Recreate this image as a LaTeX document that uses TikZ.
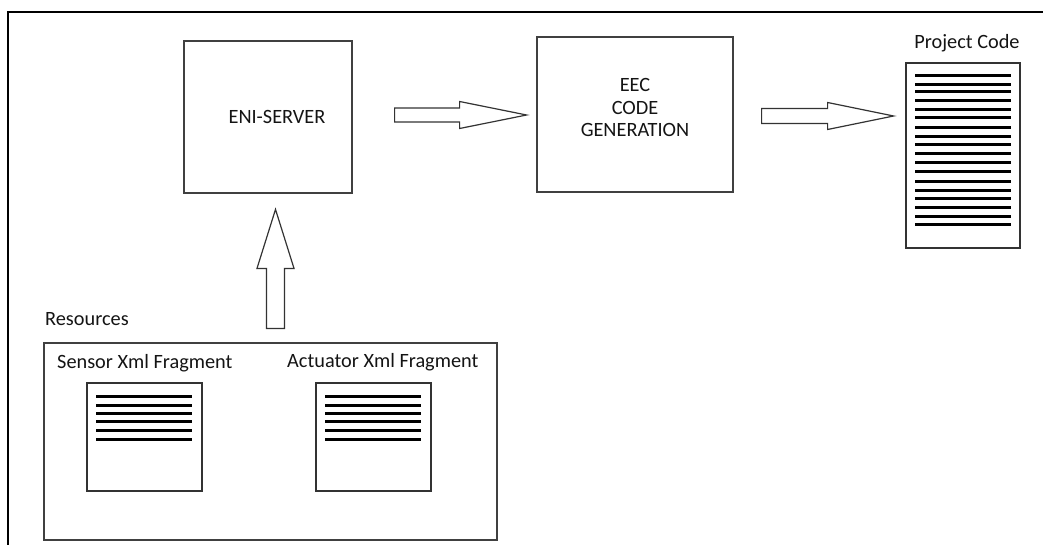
\documentclass[tikz,border=0pt]{standalone}
\usepackage{fontspec}
\setmainfont{Carlito}
\begin{document}
\begin{tikzpicture}[x=1pt,y=-1pt,
  box/.style={draw=black!75,line width=1.2pt,rectangle,inner sep=0pt},
  doc/.style={draw=black!80,line width=1.2pt,rectangle,inner sep=0pt,fill=white},
  docline/.style={line width=2.8pt,black},
  lbl/.style={font=\fontsize{20.3}{22.5}\selectfont,text=black!92,inner sep=0pt,align=center},
  arrowline/.style={draw=black!80,line width=1.2pt,fill=white,line join=miter},
  pics/blockarrow/.style n args={4}{code={
    % total length, head length, shaft half width, head half width
    \path[arrowline] (0,-#3) -- ({#1-#2},-#3) -- ({#1-#2},-#4) -- (#1,0)
      -- ({#1-#2},#4) -- ({#1-#2},#3) -- (0,#3) -- cycle;
  }}]
\useasboundingbox (0,0) rectangle (1043,545);
% frame
\draw[black,line width=1.3pt] (1043,12) -- (8,12) -- (8,545);

% main blocks
\node[box,minimum width=168pt,minimum height=152pt] (eni) at (268,117) {};
\node[lbl] (enitext) at ([xshift=9pt]eni.center) {ENI-SERVER};
\node[box,minimum width=196pt,minimum height=155pt] (eec) at (635,114.5) {};
\node[lbl] (eectext) at ([yshift=7pt]eec.center) {EEC\\CODE\\GENERATION};

% project code document
\node[doc,minimum width=114pt,minimum height=185pt] (pc) at (963,155.5) {};
\node[lbl] (pclbl) at ([xshift=4pt,yshift=19pt]pc.north) {Project Code};
\begin{scope}[shift={(pc.north west)}]
  \foreach \y in {13,22,29,38,47,55,65,74,82,91,100,109,119,128,136,145,154,162}
    \draw[docline] (10,\y) -- (106,\y);
\end{scope}

% resources
\node[box,minimum width=453pt,minimum height=197pt] (res) at (270.5,441.5) {};
\node[lbl,anchor=west] (reslbl) at (45,319) {Resources};
\node[lbl,anchor=west] (senslbl) at (57,363) {Sensor Xml Fragment};
\node[lbl,anchor=west] (actlbl) at (287,362) {Actuator Xml Fragment};
\node[doc,minimum width=115pt,minimum height=108pt] (sens) at (144.5,437) {};
\node[doc,minimum width=115pt,minimum height=108pt] (act) at (373.5,437) {};
\foreach \d in {sens,act}{
  \begin{scope}[shift={(\d.north west)}]
    \foreach \y in {14,23,31,39,48,57}
      \draw[docline] (10,\y) -- (106,\y);
  \end{scope}
}

% block arrows between the stages
\coordinate (a1) at ([xshift=42pt,yshift=2pt]eni.east);
\coordinate (a2) at ([xshift=28pt,yshift=-1.5pt]eec.east);
\coordinate (a3) at ([xshift=7.5pt,yshift=14pt]res.north -| eni.center);
\pic at (a1) {blockarrow={132}{67}{7}{13.5}};
\pic at (a2) {blockarrow={132}{66}{7.5}{13.5}};
\pic[rotate=90] at (a3) {blockarrow={119}{59}{9}{18.5}};
\end{tikzpicture}
\end{document}
